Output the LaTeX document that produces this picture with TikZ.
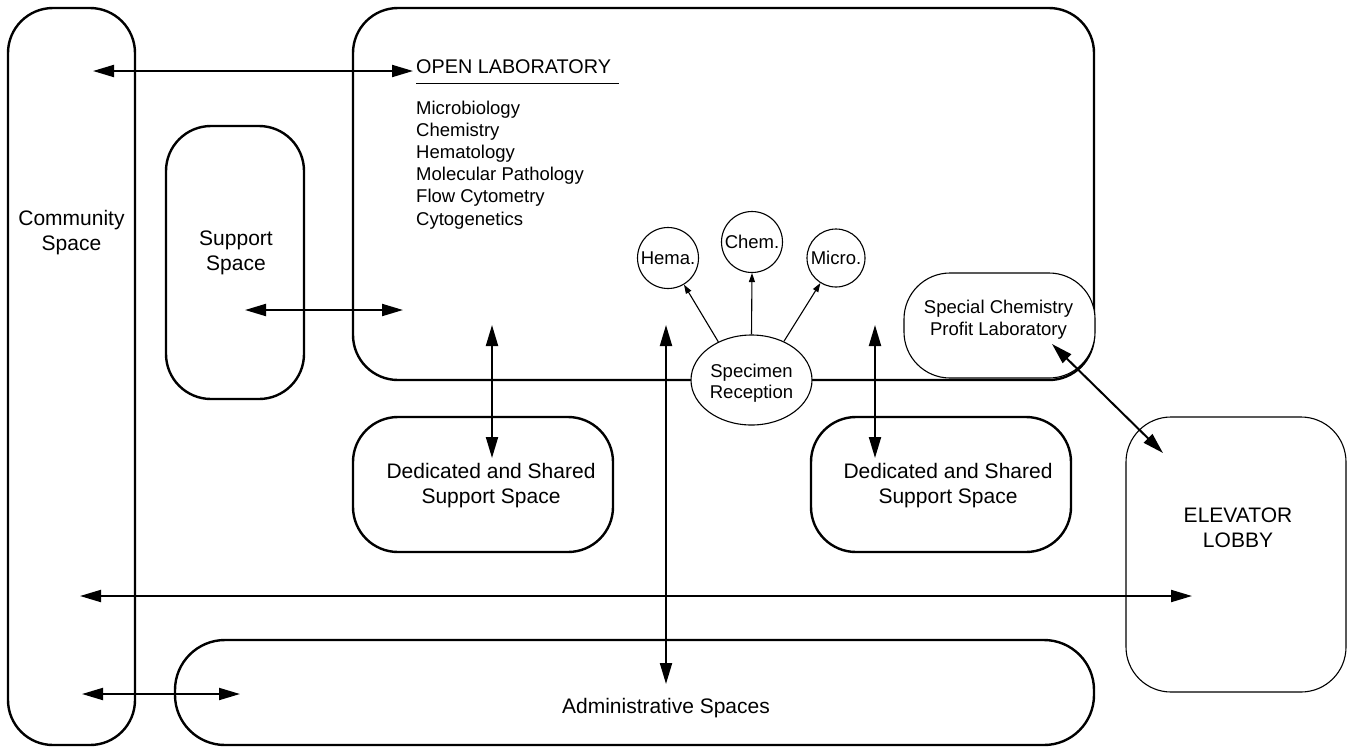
\documentclass[tikz,border=0pt]{standalone}
\usepackage{fontspec}
\setmainfont{Liberation Sans}
\usetikzlibrary{arrows.meta,shapes.geometric}
\tikzset{
  room/.style={draw, line width=2.4pt, rounded corners=45pt, inner sep=0pt},
  thinroom/.style={draw, line width=1.1pt, rounded corners=45pt, inner sep=0pt, fill=white},
  big/.style={anchor=base, inner sep=0pt, font=\fontsize{21}{25}\selectfont},
  mid/.style={anchor=base, inner sep=0pt, font=\fontsize{18.5}{22}\selectfont},
  listtext/.style={anchor=base west, inner sep=0pt, font=\fontsize{18.5}{22}\selectfont},
  bigarrow/.style={line width=2pt, {Triangle[length=21pt,width=12pt]}-{Triangle[length=21pt,width=12pt]}},
  smallarrow/.style={line width=1.1pt, -{Triangle[length=9pt,width=6pt]}},
  lab/.style={draw, circle, line width=1.1pt, minimum size=61pt, inner sep=0pt, font=\fontsize{18.5}{22}\selectfont},
}
\begin{document}
\begin{tikzpicture}[x=1pt,y=-1pt]
\useasboundingbox (0,0) rectangle (1354,753);
% rooms
\node[room, minimum width=127pt, minimum height=737pt] (community) at (71.5,376.5) {};
\node[big] (communityA) at (71.5,225) {Community};
\node[big] (communityB) at (71.5,250) {Space};
\node[room, minimum width=138pt, minimum height=273pt] (support) at (235,262.5) {};
\node[big] (supportA) at (236,245) {Support};
\node[big] (supportB) at (236,270) {Space};
\node[room, minimum width=741pt, minimum height=372pt] (openlab) at (723.5,194) {};
\node[room, minimum width=260pt, minimum height=135pt] (ded1) at (483,484.5) {};
\node[big] (ded1A) at (491,478) {Dedicated and Shared};
\node[big] (ded1B) at (491,503) {Support Space};
\node[room, minimum width=260pt, minimum height=135pt] (ded2) at (941,484.5) {};
\node[big] (ded2A) at (948,478) {Dedicated and Shared};
\node[big] (ded2B) at (948,503) {Support Space};
\node[thinroom, minimum width=220pt, minimum height=275pt] (lobby) at (1236,554.5) {};
\node[big] (lobbyA) at (1238,522) {ELEVATOR};
\node[big] (lobbyB) at (1238,547) {LOBBY};
\node[room, rounded corners=50pt, minimum width=919pt, minimum height=105pt] (admin) at (634.5,692.5) {};
\node[big] (adminText) at (666,713) {Administrative Spaces};
\node[thinroom, rounded corners=46pt, minimum width=191pt, minimum height=105pt] (special) at (999.5,325.5) {};
\node[mid] (specialA) at (998.5,313) {Special Chemistry};
\node[mid] (specialB) at (998.5,335) {Profit Laboratory};
% open laboratory text
\node[anchor=base west, inner sep=0pt, font=\fontsize{19.8}{22}\selectfont] (oltitle) at (416,73) {OPEN LABORATORY};
\coordinate (ulA) at (416,83);
\coordinate (ulB) at (619,83);
\draw[line width=0.8pt] (ulA) -- (ulB);
\node[listtext] (l1) at (416,114) {Microbiology};
\node[listtext] (l2) at (416,136.2) {Chemistry};
\node[listtext] (l3) at (416,158.4) {Hematology};
\node[listtext] (l4) at (416,180.6) {Molecular Pathology};
\node[listtext] (l5) at (416,202.8) {Flow Cytometry};
\node[listtext] (l6) at (416,225) {Cytogenetics};
% specimen reception and lab circles
\node[draw, ellipse, line width=1.1pt, fill=white, minimum width=121pt, minimum height=90pt, inner sep=0pt] (specimen) at (751.5,380) {};
\node[mid] (specA) at (751.5,377) {Specimen};
\node[mid] (specB) at (751.5,398.5) {Reception};
\node[lab] (hema) at (668,258) {Hema.};
\node[lab] (chem) at (752,242) {Chem.};
\node[lab, minimum size=58pt] (micro) at (836,258) {Micro.};
\draw[smallarrow] (specimen.131) -- (hema);
\draw[smallarrow] (specimen.north) -- (chem.south);
\draw[smallarrow] (specimen.50) -- (micro);
% arrow end points
\coordinate (a1L) at (93,71);  \coordinate (a1R) at (413,71);
\coordinate (a2L) at (245,310); \coordinate (a2R) at (403,310);
\coordinate (a3T) at (492,325); \coordinate (a3B) at (492,458);
\coordinate (a4T) at (666,325); \coordinate (a4B) at (666,684);
\coordinate (a5T) at (875,325); \coordinate (a5B) at (875,458);
\coordinate (a6A) at (1052,344); \coordinate (a6B) at (1163,453);
\coordinate (a7L) at (80,596); \coordinate (a7R) at (1192,596);
\coordinate (a8L) at (82,694); \coordinate (a8R) at (240,694);
\draw[bigarrow] (a1L) -- (a1R);
\draw[bigarrow] (a2L) -- (a2R);
\draw[bigarrow] (a3T) -- (a3B);
\draw[bigarrow] (a4T) -- (a4B);
\draw[bigarrow] (a5T) -- (a5B);
\draw[bigarrow] (a6A) -- (a6B);
\draw[bigarrow] (a7L) -- (a7R);
\draw[bigarrow] (a8L) -- (a8R);
\end{tikzpicture}
\end{document}
